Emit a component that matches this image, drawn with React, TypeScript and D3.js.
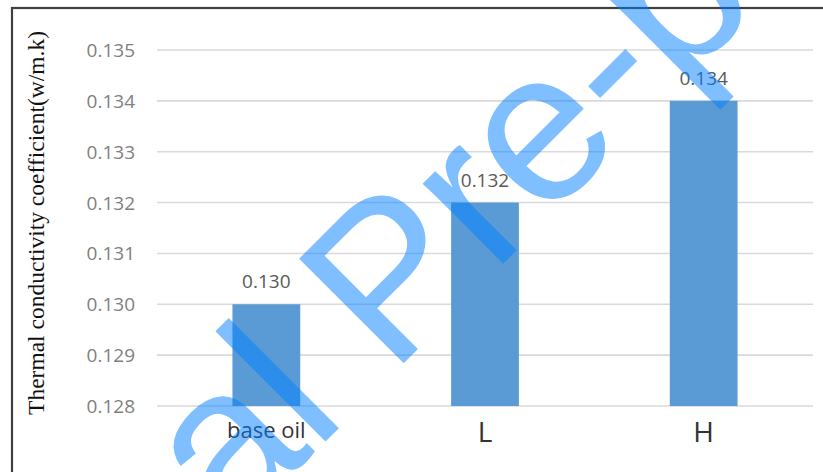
import React from "react";
import * as d3 from "d3";

const categories = ["base oil", "L", "H"];
const values = [0.13, 0.132, 0.134];
const valueLabels = ["0.130", "0.132", "0.134"];
const yTicks = [0.128, 0.129, 0.13, 0.131, 0.132, 0.133, 0.134, 0.135];
const yTitle = "Thermal conductivity coefficient(w/m.k)";
const watermark = "Journal Pre-proof";

const W = 823;
const H = 472;

export default function App() {
  const x = d3
    .scaleBand<string>()
    .domain(categories)
    .range([157, 813])
    .paddingInner(0.69)
    .paddingOuter(0.345);
  const y = d3.scaleLinear().domain([0.128, 0.135]).range([406, 50]);
  const fmt = d3.format(".3f");
  const wmSize = 215;

  return (
    <svg
      width={W}
      height={H}
      style={{ position: "absolute", left: 0, top: 0, background: "#fff" }}
    >
      <rect x={0} y={0} width={W} height={H} fill="#fff" />
      {/* outer frame */}
      <rect x={12} y={8} width={W + 20} height={H + 20} fill="none" stroke="#404040" strokeWidth={2.2} />

      {/* gridlines */}
      {yTicks.map((t) => (
        <line key={t} x1={157} x2={813} y1={y(t)} y2={y(t)} stroke="#d9d9d9" strokeWidth={1.6} />
      ))}

      {/* y tick labels */}
      {yTicks.map((t) => (
        <text
          key={"l" + t}
          x={135}
          y={y(t) + 7}
          textAnchor="end"
          fontFamily="'Open Sans', sans-serif"
          fontSize={19}
          fill="#808080"
        >
          {fmt(t)}
        </text>
      ))}

      {/* bars */}
      {categories.map((c, i) => (
        <rect
          key={c}
          x={x(c)}
          y={y(values[i])}
          width={x.bandwidth()}
          height={y(0.128) - y(values[i])}
          fill="#5b9bd5"
        />
      ))}

      {/* value labels */}
      {categories.map((c, i) => (
        <text
          key={"v" + c}
          x={(x(c) as number) + x.bandwidth() / 2}
          y={y(values[i]) - 16}
          textAnchor="middle"
          fontFamily="'Open Sans', sans-serif"
          fontSize={19}
          fill="#595959"
        >
          {valueLabels[i]}
        </text>
      ))}

      {/* category labels */}
      {categories.map((c, i) => (
        <text
          key={"c" + c}
          x={(x(c) as number) + x.bandwidth() / 2}
          y={i === 0 ? 438 : 442}
          textAnchor="middle"
          fontFamily="'Open Sans', sans-serif"
          fontSize={i === 0 ? 22 : 28}
          fill="#333"
        >
          {c}
        </text>
      ))}

      {/* y axis title */}
      <text
        transform="translate(44,223) rotate(-90)"
        textAnchor="middle"
        fontFamily="'Liberation Serif', 'Times New Roman', serif"
        fontSize={23.5}
        fill="#111"
      >
        {yTitle}
      </text>

      {/* watermark */}
      <text
        transform="translate(332,435) rotate(-45)"
        x={-3.168 * wmSize}
        y={0}
        fontFamily="'Liberation Sans', Arial, sans-serif"
        fontSize={wmSize}
        fill="#0080ff"
        fillOpacity={0.5}
      >
        {watermark}
      </text>
    </svg>
  );
}
